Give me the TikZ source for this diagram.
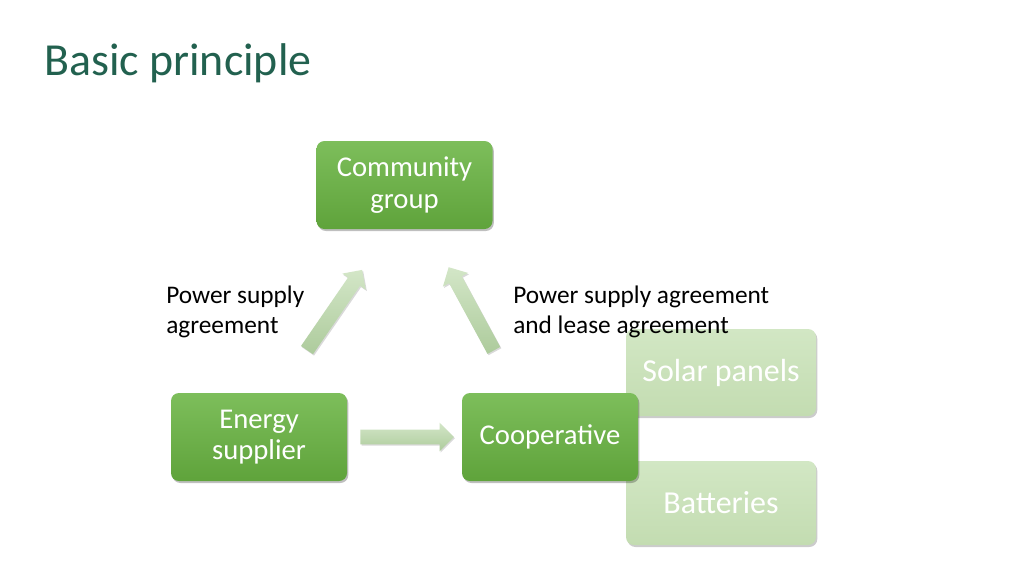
\documentclass[tikz,border=0pt]{standalone}
\usepackage{fontspec}
\setmainfont{Carlito}
\usetikzlibrary{shapes.arrows,shadows}
\definecolor{titlegreen}{HTML}{22614F}
\definecolor{darktop}{HTML}{7DBE5B}
\definecolor{darkbot}{HTML}{5FA33B}
\definecolor{lighttop}{HTML}{D2E7C4}
\definecolor{lightbot}{HTML}{C3DCB1}
\definecolor{arrtop}{HTML}{D3E6C7}
\definecolor{arrbot}{HTML}{ADCB9C}
\tikzset{
  darkbox/.style={draw=none, rounded corners=6pt, top color=darktop, bottom color=darkbot,
    text=white, font=\fontsize{21.5}{23.5}\selectfont, align=center, inner sep=0pt,
    drop shadow={shadow xshift=1pt, shadow yshift=-1.5pt, opacity=0.25, fill=black}},
  lightbox/.style={draw=none, rounded corners=6pt, top color=lighttop, bottom color=lightbot,
    text=white, font=\fontsize{24}{26}\selectfont, align=center, inner sep=0pt,
    drop shadow={shadow xshift=1pt, shadow yshift=-1.5pt, opacity=0.2, fill=black}},
  blockarrow/.style={single arrow, draw=none, top color=arrtop, bottom color=arrbot,
    text height=0pt, text depth=0pt, text width=0pt,
    inner xsep=0pt, inner ysep=5.25pt, single arrow head extend=5.25pt, single arrow tip angle=90,
    anchor=center,
    drop shadow={shadow xshift=0.8pt, shadow yshift=-1pt, opacity=0.15, fill=black}},
  lbl/.style={font=\fontsize{19}{22.5}\selectfont, align=left, inner sep=0pt, anchor=north west}
}
\begin{document}
\begin{tikzpicture}[x=0.75pt, y=-0.75pt]
\useasboundingbox[fill=white] (0,0) rectangle (1024,576);
\node[anchor=base west, inner sep=0pt, text=titlegreen, font=\fontsize{34.4}{40}\selectfont] (title) at (44,75) {Basic principle};

\node[lightbox, minimum width=142.5pt, minimum height=65.25pt] (solar) at (721,372.5) {Solar panels};
\node[lightbox, minimum width=142.5pt, minimum height=63pt] (batt) at (721,503) {Batteries};

\node[darkbox, minimum width=132pt, minimum height=66pt] (comm) at (404.5,185) {Community\\group};
\node[darkbox, minimum width=132pt, minimum height=66pt] (energy) at (259,437) {Energy\\supplier};
\node[darkbox, minimum width=132pt, minimum height=66pt] (coop) at (550,437) {Cooperative};

\node[blockarrow, minimum height=70pt] (a1) at (403.5,437) {};
\node[blockarrow, minimum height=73pt, rotate=55.5] (a2) at (332.5,313) {};
\node[blockarrow, minimum height=71pt, rotate=118.5] (a3) at (473,312) {};

\node[lbl] (l1) at (166,286) {Power supply\\agreement};
\node[lbl] (l2) at (513,286) {Power supply agreement\\and lease agreement};
\end{tikzpicture}
\end{document}
